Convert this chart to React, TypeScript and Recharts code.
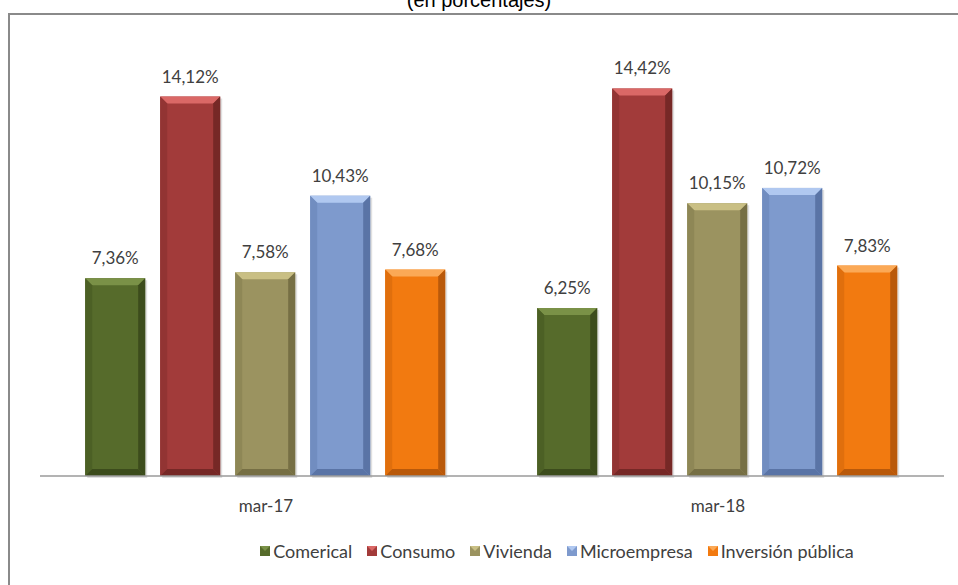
import React from "react";
import { BarChart, Bar, XAxis, YAxis, LabelList, Legend } from "recharts";

const categories = ["mar-17", "mar-18"];
const comercial = [7.36, 6.25];
const consumo = [14.12, 14.42];
const vivienda = [7.58, 10.15];
const microempresa = [10.43, 10.72];
const inversion = [7.68, 7.83];

const seriesNames = ["Comerical", "Consumo", "Vivienda", "Microempresa", "Inversión pública"];
const seriesKeys = ["comercial", "consumo", "vivienda", "microempresa", "inversion"];

const palette: Record<string, { base: string; light: string; dark: string; side: string }> = {
  comercial: { base: "#566B2B", light: "#7A9147", dark: "#3C4C1C", side: "#4C6025" },
  consumo: { base: "#A23B3A", light: "#DA6866", dark: "#762826", side: "#923433" },
  vivienda: { base: "#9B9360", light: "#C9BF84", dark: "#766F44", side: "#8E8756" },
  microempresa: { base: "#7E9ACD", light: "#B0C8F0", dark: "#5A74A6", side: "#718DC0" },
  inversion: { base: "#F27A10", light: "#FBA956", dark: "#B9590A", side: "#E06F0D" },
};

const data = categories.map((c, i) => ({
  name: c,
  comercial: comercial[i],
  consumo: consumo[i],
  vivienda: vivienda[i],
  microempresa: microempresa[i],
  inversion: inversion[i],
}));

const makeShape = (key: string) => (props: any) => {
  const { x, y, width, height } = props;
  const c = palette[key];
  const b = Math.min(7, width / 4, height / 4);
  return (
    <g>
      <rect x={x + 2} y={y + 2} width={width} height={height} fill="#000" opacity={0.12} />
      <rect x={x} y={y} width={width} height={height} fill={c.base} />
      <polygon points={`${x},${y} ${x + width},${y} ${x + width - b},${y + b} ${x + b},${y + b}`} fill={c.light} />
      <polygon points={`${x},${y} ${x + b},${y + b} ${x + b},${y + height - b} ${x},${y + height}`} fill={c.side} />
      <polygon points={`${x + width},${y} ${x + width},${y + height} ${x + width - b},${y + height - b} ${x + width - b},${y + b}`} fill={c.dark} />
      <polygon points={`${x},${y + height} ${x + b},${y + height - b} ${x + width - b},${y + height - b} ${x + width},${y + height}`} fill={c.dark} />
    </g>
  );
};

const fmt = (v: any) => `${Number(v).toFixed(2).replace(".", ",")}%`;

const FONT = "Lato, 'Open Sans', sans-serif";

const LegendContent = () => (
  <div
    style={{
      display: "flex",
      justifyContent: "center",
      alignItems: "center",
      height: 30,
      fontFamily: FONT,
      fontSize: 18,
      color: "#404040",
      paddingLeft: 130,
    }}
  >
    {seriesKeys.map((k, i) => (
      <div key={k} style={{ display: "flex", alignItems: "center", marginRight: i < 4 ? 15 : 0 }}>
        <svg width={10} height={10} style={{ marginRight: 3 }}>
          <rect x={0} y={0} width={10} height={10} fill={palette[k].base} />
          <polygon points="0,0 10,0 5,5" fill={palette[k].light} />
        </svg>
        <span>{seriesNames[i]}</span>
      </div>
    ))}
  </div>
);

export default function App() {
  return (
    <div style={{ position: "absolute", left: 0, top: 0, width: 958, height: 585, overflow: "hidden", background: "#fff" }}>
      <div
        style={{
          position: "absolute",
          left: 0,
          top: -10,
          width: 958,
          textAlign: "center",
          fontFamily: "'Liberation Sans', Arial, sans-serif",
          fontSize: 20,
          lineHeight: "20px",
          color: "#000",
        }}
      >
        (en porcentajes)
      </div>
      <div
        style={{
          position: "absolute",
          left: 8,
          top: 13,
          width: 1100,
          height: 700,
          borderLeft: "2px solid #8a8a8a",
          borderTop: "2px solid #8a8a8a",
        }}
      />
      <div style={{ position: "absolute", left: 0, top: 0 }}>
        <BarChart
          width={958}
          height={585}
          data={data}
          margin={{ top: 46, right: 14, left: 40, bottom: 19 }}
          barCategoryGap="10%"
          barGap={15}
        >
          <XAxis
            dataKey="name"
            height={60}
            tickLine={false}
            axisLine={{ stroke: "#9a9a9a", strokeWidth: 1.5 }}
            tickMargin={18}
            tick={{ fill: "#404040", fontSize: 17, fontFamily: FONT }}
          />
          <YAxis hide domain={[0, 16]} />
          <Legend verticalAlign="bottom" height={30} content={<LegendContent />} />
          {seriesKeys.map((k, i) => (
            <Bar
              key={k}
              dataKey={k}
              name={seriesNames[i]}
              fill={palette[k].base}
              isAnimationActive={false}
              shape={makeShape(k)}
            >
              <LabelList
                dataKey={k}
                position="top"
                offset={14}
                formatter={fmt}
                style={{ fill: "#404040", fontSize: 17, fontFamily: FONT }}
              />
            </Bar>
          ))}
        </BarChart>
      </div>
    </div>
  );
}
